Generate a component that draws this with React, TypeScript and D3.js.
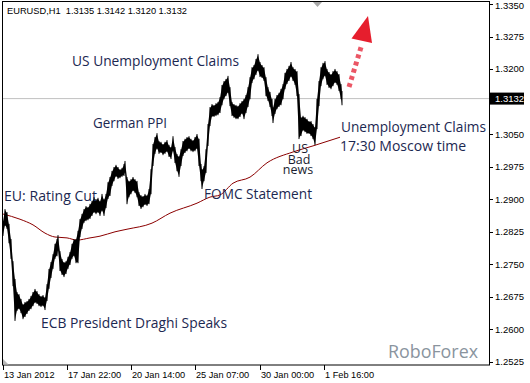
import React from "react";
import * as d3 from "d3";

const W = 530;
const H = 383;

// hourly bar index (from 13 Jan 2012) with high / low prices
const bars = [0,2,4,6,8,10,12,14,16,18,20,22,24,26,28,30,32,34,36,38,40,42,44,46,48,50,52,54,55,57,59,61,63,65,67,69,71,73,75,77,79,81,83,85,87,89,91,93,95,97,99,101,103,105,107,109,111,113,115,117,119,121,122,124,126,128,130,132,134,136,138,140,142,144,146,148,150,152,154,156,158,160,162,164,166,168,170,172,174,176,178,180,182,184,186,188,190,192,194,196,198,199,201,203,205,207,209,211,213,215,217,219,221,223,225,227,229,231,233,235,237,239,241,243,245,247,249,251,253,255,257,259,261,263,265,267,269,270,272,274,276,278,280,282,284,286,288,290,292,294,296,298,300,302,304,306,308,310,312,314,316,318,320,322,324,326,328,330,332,334,336,338,339];
const highs = [1.2848,1.2875,1.2868,1.2841,1.2806,1.2755,1.2714,1.2684,1.2679,1.2668,1.2656,1.2661,1.2663,1.2668,1.2675,1.2684,1.2691,1.2686,1.2679,1.2675,1.2677,1.2672,1.2702,1.2737,1.2753,1.2771,1.2795,1.2806,1.2815,1.2778,1.2760,1.2753,1.2755,1.2765,1.2776,1.2795,1.2806,1.2806,1.2825,1.2852,1.2864,1.2875,1.2882,1.2880,1.2887,1.2894,1.2903,1.2898,1.2901,1.2894,1.2910,1.2898,1.2910,1.2937,1.2949,1.2963,1.2972,1.2977,1.2972,1.2967,1.2970,1.2979,1.2986,1.2949,1.2940,1.2944,1.2949,1.2944,1.2940,1.2914,1.2907,1.2905,1.2910,1.2907,1.2921,1.2967,1.3025,1.3041,1.3050,1.3032,1.3030,1.3025,1.3030,1.3034,1.3023,1.3018,1.3043,1.3018,1.3002,1.2997,1.3013,1.3032,1.3037,1.3041,1.3043,1.3037,1.3034,1.3041,1.3048,1.3037,1.2979,1.2967,1.2974,1.3013,1.3071,1.3110,1.3117,1.3115,1.3119,1.3122,1.3133,1.3161,1.3170,1.3175,1.3182,1.3156,1.3122,1.3117,1.3115,1.3113,1.3119,1.3124,1.3129,1.3138,1.3156,1.3179,1.3202,1.3207,1.3221,1.3232,1.3214,1.3207,1.3202,1.3179,1.3156,1.3145,1.3129,1.3110,1.3129,1.3138,1.3143,1.3152,1.3163,1.3189,1.3198,1.3205,1.3214,1.3202,1.3198,1.3193,1.3140,1.3087,1.3090,1.3087,1.3083,1.3078,1.3078,1.3071,1.3064,1.3129,1.3170,1.3202,1.3212,1.3216,1.3198,1.3191,1.3186,1.3193,1.3198,1.3193,1.3186,1.3163,1.3147];
const lows = [1.2818,1.2841,1.2834,1.2801,1.2765,1.2702,1.2622,1.2645,1.2649,1.2640,1.2626,1.2631,1.2638,1.2645,1.2649,1.2656,1.2663,1.2661,1.2656,1.2654,1.2656,1.2647,1.2668,1.2696,1.2721,1.2742,1.2765,1.2771,1.2783,1.2737,1.2728,1.2723,1.2730,1.2742,1.2751,1.2765,1.2771,1.2755,1.2755,1.2815,1.2834,1.2848,1.2852,1.2854,1.2857,1.2864,1.2871,1.2868,1.2871,1.2864,1.2875,1.2864,1.2882,1.2903,1.2910,1.2933,1.2944,1.2954,1.2949,1.2951,1.2954,1.2956,1.2963,1.2891,1.2907,1.2914,1.2921,1.2917,1.2907,1.2887,1.2880,1.2884,1.2889,1.2887,1.2891,1.2914,1.2979,1.3007,1.3018,1.3007,1.3009,1.3004,1.3007,1.3011,1.3000,1.2995,1.3013,1.2986,1.2967,1.2954,1.2979,1.3002,1.3009,1.3013,1.3018,1.3013,1.3011,1.3013,1.3018,1.2979,1.2944,1.2926,1.2944,1.2963,1.3025,1.3071,1.3092,1.3092,1.3094,1.3096,1.3101,1.3119,1.3133,1.3140,1.3147,1.3117,1.3094,1.3090,1.3087,1.3087,1.3092,1.3099,1.3087,1.3101,1.3115,1.3133,1.3170,1.3179,1.3189,1.3198,1.3184,1.3182,1.3175,1.3140,1.3129,1.3115,1.3094,1.3078,1.3099,1.3110,1.3115,1.3119,1.3133,1.3156,1.3168,1.3175,1.3184,1.3175,1.3166,1.3140,1.3041,1.3048,1.3060,1.3057,1.3053,1.3053,1.3048,1.3041,1.3027,1.3064,1.3117,1.3163,1.3179,1.3186,1.3166,1.3159,1.3156,1.3163,1.3170,1.3166,1.3152,1.3133,1.3119];

// moving average
const maBars = [0,17,30,42,52,64,74,87,97,112,124,149,167,194,207,217,230,247,264,290,310,337];
const maValues = [1.2866,1.2854,1.2841,1.2822,1.2813,1.2811,1.2806,1.2811,1.2815,1.2825,1.2831,1.2845,1.2868,1.2891,1.2905,1.2910,1.2937,1.2951,1.2984,1.3009,1.3023,1.3043];

const priceTicks = [1.2525,1.26,1.2675,1.275,1.2825,1.29,1.2975,1.305,1.3125,1.32,1.3275,1.335];
const timeTickBars = [0,64,128,192,257,321];
const timeTickLabels = ["13 Jan 2012","17 Jan 22:00","20 Jan 14:00","25 Jan 07:00","30 Jan 00:00","1 Feb 16:00"];

const lastPrice = 1.3132;
const title = "EURUSD,H1  1.3135 1.3142 1.3120 1.3132";
const badNewsLines = ["US", "Bad", "news"];

const annoColor = "#1c2851";

export default function App() {
  const left = 2, right = 489, top = 2, bottom = 365;
  const x = d3.scaleLinear().domain([0, 486]).range([3, 489]);
  const y = d3.scaleLinear().domain([1.2525, 1.335]).range([362, 4]);

  const data = bars.map((b, i) => ({ b, hi: highs[i], lo: lows[i] }));
  const area = d3.area<any>().x(d => x(d.b)).y0(d => y(d.lo)).y1(d => y(d.hi));
  const ma = d3.line<number>().x((_, i) => x(maBars[i])).y(d => y(d)).curve(d3.curveMonotoneX);

  const lp = y(lastPrice);

  // arrow geometry (annotation)
  const shaft: [number, number][] = [[349, 87], [362, 44]];
  const head = "368,16 351.5,38.5 372,43";

  return (
    <svg width={W} height={H} style={{ position: "absolute", left: 0, top: 0, background: "#fff" }}
      fontFamily="'Open Sans', sans-serif">
      <rect x={0} y={0} width={W} height={H} fill="#fff" />
      {/* last price line */}
      <line x1={left} x2={right} y1={lp} y2={lp} stroke="#c0c0c0" strokeWidth={1} />

      {/* moving average */}
      <path d={ma(maValues) || ""} fill="none" stroke="#8b0000" strokeWidth={1} />

      {/* price bars */}
      <path d={area(data) || ""} fill="#000" stroke="none" />
      {data.map((d, i) => (
        <line key={i} x1={x(d.b)} x2={x(d.b)} y1={y(d.hi) - 1} y2={y(d.lo) + 1} stroke="#000" strokeWidth={1} />
      ))}

      {/* frame */}
      <rect x={left + 0.5} y={top - 0.5} width={right - left} height={bottom - top + 0.5} fill="none" stroke="#000" strokeWidth={1} />

      {/* right axis */}
      {priceTicks.map((p, i) => (
        <g key={i}>
          <line x1={right} x2={right + 4} y1={Math.round(y(p)) + 0.5} y2={Math.round(y(p)) + 0.5} stroke="#000" />
          {Math.abs(y(p) - lp) > 8 && (
            <text x={495} y={Math.max(y(p) + 3.4, 9)} fontFamily="'Liberation Sans', Arial, sans-serif" fontSize={9.5} fill="#000">{p.toFixed(4)}</text>
          )}
        </g>
      ))}
      <rect x={490} y={lp - 6} width={34} height={12} fill="#000" />
      <text x={495} y={lp + 3.4} fontFamily="'Liberation Sans', Arial, sans-serif" fontSize={9.5} fill="#fff">{lastPrice.toFixed(4)}</text>

      {/* bottom axis */}
      {timeTickBars.map((b, i) => (
        <g key={i}>
          <line x1={Math.round(x(b)) + 0.5} x2={Math.round(x(b)) + 0.5} y1={bottom} y2={bottom + 5} stroke="#000" />
          <text x={x(b) + 1} y={378} fontFamily="'Liberation Sans', Arial, sans-serif" fontSize={9.2} fill="#000">{timeTickLabels[i]}</text>
        </g>
      ))}

      {/* markers */}
      <polygon points="313,2 322,2 317.5,7" fill="#a8a8a8" />
      <polygon points="3,359 3,364.5 8.5,364.5" fill="#b8b8b8" />

      {/* title */}
      <text x={7} y={14} fontFamily="'Liberation Sans', Arial, sans-serif" fontSize={9.6} fill="#000" textLength={180} lengthAdjust="spacingAndGlyphs" xmlSpace="preserve">{title}</text>

      {/* annotations */}
      <g fill={annoColor} fontSize={14}>
        <text x={72} y={66} textLength={167} lengthAdjust="spacingAndGlyphs">US Unemployment Claims</text>
        <text x={93} y={128} textLength={74} lengthAdjust="spacingAndGlyphs">German PPI</text>
        <text x={4} y={201} textLength={93} lengthAdjust="spacingAndGlyphs">EU: Rating Cut</text>
        <text x={204} y={199} textLength={108} lengthAdjust="spacingAndGlyphs">FOMC Statement</text>
        <text x={41} y={328} textLength={186} lengthAdjust="spacingAndGlyphs">ECB President Draghi Speaks</text>
        <text x={341} y={132} textLength={145} lengthAdjust="spacingAndGlyphs">Unemployment Claims</text>
        <text x={340} y={151} textLength={126} lengthAdjust="spacingAndGlyphs">17:30 Moscow time</text>
      </g>
      <text fill="#1a1e30" fontSize={12.5} textAnchor="middle" y={153}>
        {badNewsLines.map((t, i) => (
          <tspan key={i} x={300 - i} dy={i === 0 ? 0 : 10.5}>{t}</tspan>
        ))}
      </text>

      {/* arrow */}
      <line x1={shaft[0][0]} y1={shaft[0][1]} x2={shaft[1][0]} y2={shaft[1][1]} stroke="#e8384a" strokeOpacity={0.85} strokeWidth={5} strokeDasharray="4,3.5" />
      <polygon points={head} fill="#e61e2d" />

      {/* watermark */}
      <text x={388} y={358} fontSize={19} fill="#8a949e" textLength={90} lengthAdjust="spacingAndGlyphs">RoboForex</text>
    </svg>
  );
}
